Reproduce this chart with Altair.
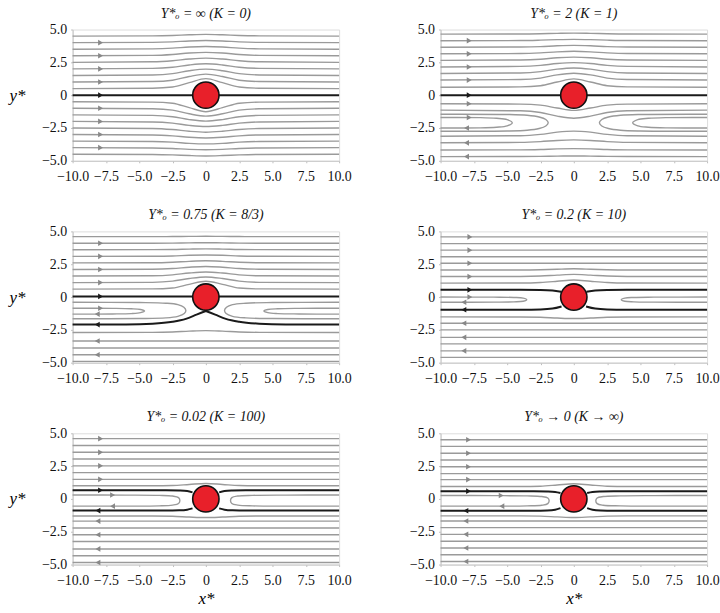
import altair as alt
import pandas as pd

FONT = "Liberation Serif"
GRAY = "#9a9a9a"
GRAY_ARROW = "#888888"
BLACK = "#1a1a1a"
RED = "#e8202a"

# ---------------- shared grids / ticks ----------------
XS = [-10, 10]                                   # straight streamline ends
X9 = [-10, -4, -2.5, -1.25, 0, 1.25, 2.5, 4, 10]  # sample x for deflected lines
XT = [-10, -7.5, -5, -2.5, 0, 2.5, 5, 7.5, 10]
YT = [-5, -2.5, 0, 2.5, 5]
SPHERE = [(0, 0)]

TITLES = [
    "Y*ₒ = ∞ (K = 0)",
    "Y*ₒ = 2 (K = 1)",
    "Y*ₒ = 0.75 (K = 8/3)",
    "Y*ₒ = 0.2 (K = 10)",
    "Y*ₒ = 0.02 (K = 100)",
    "Y*ₒ → 0 (K → ∞)",
]

# ---------------- panel 1 : K = 0 ----------------
P1_STRAIGHT = []
P1_CURVED = [
    [4.5, 4.52, 4.55, 4.6, 4.63, 4.6, 4.55, 4.52, 4.5],
    [4.0, 4.02, 4.06, 4.13, 4.16, 4.13, 4.06, 4.02, 4.0],
    [3.5, 3.53, 3.58, 3.67, 3.71, 3.67, 3.58, 3.53, 3.5],
    [3.0, 3.03, 3.1, 3.21, 3.26, 3.21, 3.1, 3.03, 3.0],
    [2.5, 2.54, 2.62, 2.75, 2.82, 2.75, 2.62, 2.54, 2.5],
    [2.0, 2.04, 2.13, 2.3, 2.39, 2.3, 2.13, 2.04, 2.0],
    [1.5, 1.54, 1.64, 1.86, 1.98, 1.86, 1.64, 1.54, 1.5],
    [1.0, 1.04, 1.14, 1.42, 1.6, 1.42, 1.14, 1.04, 1.0],
    [0.5, 0.53, 0.62, 0.95, 1.26, 0.95, 0.62, 0.53, 0.5],
    [-0.5, -0.53, -0.62, -0.95, -1.26, -0.95, -0.62, -0.53, -0.5],
    [-1.0, -1.04, -1.14, -1.42, -1.6, -1.42, -1.14, -1.04, -1.0],
    [-1.5, -1.54, -1.64, -1.86, -1.98, -1.86, -1.64, -1.54, -1.5],
    [-2.0, -2.04, -2.13, -2.3, -2.39, -2.3, -2.13, -2.04, -2.0],
    [-2.5, -2.54, -2.62, -2.75, -2.82, -2.75, -2.62, -2.54, -2.5],
    [-3.0, -3.03, -3.1, -3.21, -3.26, -3.21, -3.1, -3.03, -3.0],
    [-3.5, -3.53, -3.58, -3.67, -3.71, -3.67, -3.58, -3.53, -3.5],
    [-4.0, -4.02, -4.06, -4.13, -4.16, -4.13, -4.06, -4.02, -4.0],
    [-4.5, -4.52, -4.55, -4.6, -4.63, -4.6, -4.55, -4.52, -4.5],
]
P1_BLACK = [[(-10, 0), (10, 0)]]
P1_LOOPS = []
P1_ARROWS = [(-7.9, 4.0, "r", "g"), (-7.9, 3.0, "r", "g"), (-7.9, 2.0, "r", "g"),
             (-7.9, 1.0, "r", "g"), (-7.9, 0.0, "r", "k"), (-7.9, -1.0, "r", "g"),
             (-7.9, -2.0, "r", "g"), (-7.9, -3.0, "r", "g"), (-7.9, -4.0, "r", "g")]

# ---------------- panel 2 : K = 1 ----------------
P2_STRAIGHT = []
P2_CURVED = [
    [4.65, 4.66, 4.68, 4.71, 4.73, 4.71, 4.68, 4.66, 4.65],
    [4.15, 4.16, 4.19, 4.23, 4.25, 4.23, 4.19, 4.16, 4.15],
    [3.65, 3.67, 3.7, 3.76, 3.79, 3.76, 3.7, 3.67, 3.65],
    [3.15, 3.17, 3.22, 3.3, 3.34, 3.3, 3.22, 3.17, 3.15],
    [2.65, 2.68, 2.74, 2.85, 2.9, 2.85, 2.74, 2.68, 2.65],
    [2.15, 2.19, 2.27, 2.41, 2.48, 2.41, 2.27, 2.19, 2.15],
    [1.65, 1.69, 1.79, 1.98, 2.07, 1.98, 1.79, 1.69, 1.65],
    [1.15, 1.19, 1.3, 1.55, 1.67, 1.55, 1.3, 1.19, 1.15],
    [0.6, 0.63, 0.72, 1.0, 1.24, 1.0, 0.72, 0.63, 0.6],
    [-0.65, -0.68, -0.76, -0.98, -1.16, -0.98, -0.76, -0.68, -0.65],
    [-1.14, -1.19, -1.32, -1.6, -1.76, -1.6, -1.32, -1.19, -1.14],
    [-3.13, -3.09, -2.99, -2.82, -2.74, -2.82, -2.99, -3.09, -3.13],
    [-3.63, -3.6, -3.54, -3.45, -3.41, -3.45, -3.54, -3.6, -3.63],
    [-4.18, -4.17, -4.14, -4.09, -4.07, -4.09, -4.14, -4.17, -4.18],
    [-4.68, -4.67, -4.66, -4.64, -4.63, -4.64, -4.66, -4.67, -4.68],
]
P2_BLACK = [[(-10, 0), (10, 0)]]
P2_LOOPS = [
    [(-10, -1.45), (-5, -1.47), (-3.5, -1.53), (-2.6, -1.66), (-2.1, -1.85), (-1.92, -2.1),
     (-2.1, -2.35), (-2.6, -2.54), (-3.5, -2.67), (-5, -2.73), (-10, -2.75)],
    [(10, -1.45), (5, -1.47), (3.5, -1.53), (2.6, -1.66), (2.1, -1.85), (1.92, -2.1),
     (2.1, -2.35), (2.6, -2.54), (3.5, -2.67), (5, -2.73), (10, -2.75)],
    [(-10, -1.7), (-7, -1.71), (-5.8, -1.76), (-5.0, -1.86), (-4.62, -2.1), (-5.0, -2.34),
     (-5.8, -2.44), (-7, -2.49), (-10, -2.5)],
    [(10, -1.7), (7, -1.71), (5.6, -1.76), (4.8, -1.86), (4.42, -2.1), (4.8, -2.34),
     (5.6, -2.44), (7, -2.49), (10, -2.5)],
]
P2_ARROWS = [(-7.85, 4.15, "r", "g"), (-7.85, 3.15, "r", "g"), (-7.85, 2.15, "r", "g"),
             (-7.85, 1.15, "r", "g"), (-7.85, 0.0, "r", "k"), (-7.85, -0.65, "r", "g"),
             (-7.85, -1.7, "r", "g"), (-8.05, -2.5, "l", "g"), (-8.05, -3.63, "l", "g"),
             (-8.05, -4.68, "l", "g")]

# ---------------- panel 3 : K = 8/3 ----------------
P3_STRAIGHT = [-3.35, -3.88, -4.4, -4.9]
P3_CURVED = [
    [4.6, 4.6, 4.61, 4.62, 4.63, 4.62, 4.61, 4.6, 4.6],
    [4.1, 4.1, 4.11, 4.13, 4.14, 4.13, 4.11, 4.1, 4.1],
    [3.6, 3.61, 3.62, 3.65, 3.67, 3.65, 3.62, 3.61, 3.6],
    [3.1, 3.11, 3.13, 3.18, 3.2, 3.18, 3.13, 3.11, 3.1],
    [2.6, 2.61, 2.65, 2.72, 2.76, 2.72, 2.65, 2.61, 2.6],
    [2.1, 2.12, 2.17, 2.27, 2.33, 2.27, 2.17, 2.12, 2.1],
    [1.6, 1.62, 1.69, 1.83, 1.91, 1.83, 1.69, 1.62, 1.6],
    [1.1, 1.12, 1.21, 1.41, 1.53, 1.41, 1.21, 1.12, 1.1],
    [0.6, 0.62, 0.69, 0.97, 1.2, 0.97, 0.69, 0.62, 0.6],
    [-2.7, -2.69, -2.66, -2.6, -2.56, -2.6, -2.66, -2.69, -2.7],
]
P3_BLACK = [
    [(-10, 0.05), (10, 0.05)],
    [(-10, -2.1), (-6, -2.09), (-4, -2.03), (-2.5, -1.88), (-1.5, -1.66), (-0.7, -1.34), (0, -1.06)],
    [(0, -1.06), (0.7, -1.34), (1.5, -1.66), (2.5, -1.88), (4, -2.03), (6, -2.09), (10, -2.1)],
]
P3_LOOPS = [
    [(-10, -0.4), (-5, -0.42), (-3, -0.47), (-2.1, -0.58), (-1.65, -0.78), (-1.5, -1.02),
     (-1.62, -1.26), (-2.1, -1.47), (-3, -1.59), (-5, -1.64), (-10, -1.65)],
    [(10, -0.4), (5, -0.42), (3, -0.47), (2.0, -0.58), (1.55, -0.78), (1.4, -1.02),
     (1.52, -1.26), (2.0, -1.47), (3, -1.59), (5, -1.64), (10, -1.65)],
    [(-10, -0.85), (-7, -0.86), (-5.6, -0.89), (-4.9, -0.95), (-4.6, -1.07), (-4.9, -1.19),
     (-5.6, -1.26), (-7, -1.29), (-10, -1.3)],
    [(10, -0.85), (7, -0.86), (5.4, -0.89), (4.65, -0.95), (4.35, -1.07), (4.65, -1.19),
     (5.4, -1.26), (7, -1.29), (10, -1.3)],
]
P3_ARROWS = [(-7.9, 4.1, "r", "g"), (-7.9, 3.1, "r", "g"), (-7.9, 2.1, "r", "g"),
             (-7.9, 1.1, "r", "g"), (-7.9, 0.05, "r", "k"), (-7.9, -0.85, "r", "g"),
             (-8.15, -1.3, "l", "g"), (-8.15, -2.1, "l", "k"), (-8.15, -3.35, "l", "g"),
             (-8.15, -4.4, "l", "g")]

# ---------------- panel 4 : K = 10 ----------------
P4_STRAIGHT = [4.58, 4.07, 3.57, 3.07, 2.57, -2.0, -2.5, -3.07, -3.57, -4.1, -4.6]
P4_CURVED = [
    [2.06, 2.06, 2.08, 2.12, 2.15, 2.12, 2.08, 2.06, 2.06],
    [1.56, 1.57, 1.6, 1.67, 1.73, 1.67, 1.6, 1.57, 1.56],
    [1.06, 1.07, 1.11, 1.2, 1.3, 1.2, 1.11, 1.07, 1.06],
    [-1.51, -1.52, -1.54, -1.6, -1.64, -1.6, -1.54, -1.52, -1.51],
]
P4_BLACK = [
    [(-10, 0.55), (-4, 0.55), (-2.5, 0.54), (-1.6, 0.5), (-0.95, 0.4)],
    [(0.95, 0.4), (1.6, 0.5), (2.5, 0.54), (4, 0.55), (10, 0.55)],
    [(-10, -0.97), (-4, -0.96), (-2.5, -0.94), (-1.6, -0.88), (-0.92, -0.72)],
    [(0.92, -0.72), (1.6, -0.88), (2.5, -0.94), (4, -0.96), (10, -0.97)],
]
P4_LOOPS = [
    [(-10, 0.0), (-6, -0.01), (-4.5, -0.03), (-3.8, -0.08), (-3.53, -0.2), (-3.8, -0.32),
     (-4.5, -0.37), (-6, -0.39), (-10, -0.4)],
    [(10, 0.0), (6, -0.01), (4.5, -0.03), (3.83, -0.08), (3.56, -0.2), (3.83, -0.32),
     (4.5, -0.37), (6, -0.39), (10, -0.4)],
]
P4_ARROWS = [(-7.8, 4.58, "r", "g"), (-7.8, 3.57, "r", "g"), (-7.8, 2.57, "r", "g"),
             (-7.8, 1.56, "r", "g"), (-7.8, 0.55, "r", "k"), (-7.8, 0.0, "r", "g"),
             (-8.25, -0.4, "l", "g"), (-8.25, -0.97, "l", "k"), (-8.25, -2.0, "l", "g"),
             (-8.25, -3.07, "l", "g"), (-8.25, -4.1, "l", "g")]

# ---------------- panel 5 : K = 100 ----------------
P5_STRAIGHT = [4.59, 4.07, 3.55, 3.04, 2.52, 2.0, 1.49,
               -1.69, -2.21, -2.73, -3.24, -3.81, -4.33, -4.84]
P5_CURVED = [
    [1.0, 1.0, 1.02, 1.1, 1.18, 1.1, 1.02, 1.0, 1.0],
    [-1.3, -1.3, -1.32, -1.38, -1.42, -1.38, -1.32, -1.3, -1.3],
]
P5_BLACK = [
    [(-10, 0.66), (-3, 0.66), (-2, 0.64), (-1.4, 0.6), (-1.0, 0.5)],
    [(1.0, 0.5), (1.4, 0.6), (2, 0.64), (3, 0.66), (10, 0.66)],
    [(-10, -0.89), (-3, -0.89), (-2, -0.87), (-1.4, -0.82), (-1.0, -0.72)],
    [(1.0, -0.72), (1.4, -0.82), (2, -0.87), (3, -0.89), (10, -0.89)],
]
P5_LOOPS = [
    [(-10, 0.3), (-6, 0.29), (-3.5, 0.27), (-2.5, 0.22), (-2.05, 0.1), (-1.95, -0.12),
     (-2.05, -0.35), (-2.5, -0.47), (-3.5, -0.53), (-6, -0.55), (-10, -0.55)],
    [(10, 0.3), (6, 0.29), (3.5, 0.27), (2.4, 0.22), (1.95, 0.1), (1.85, -0.12),
     (1.95, -0.35), (2.4, -0.47), (3.5, -0.53), (6, -0.55), (10, -0.55)],
]
P5_ARROWS = [(-7.9, 4.59, "r", "g"), (-7.9, 3.55, "r", "g"), (-7.9, 2.52, "r", "g"),
             (-7.9, 1.49, "r", "g"), (-7.9, 0.66, "r", "k"), (-7.0, 0.3, "r", "g"),
             (-7.0, -0.55, "l", "g"), (-8.1, -0.89, "l", "k"), (-8.1, -1.69, "l", "g"),
             (-8.1, -2.73, "l", "g"), (-8.1, -3.81, "l", "g"), (-8.1, -4.84, "l", "g")]

# ---------------- panel 6 : K -> infinity ----------------
P6_STRAIGHT = [4.51, 4.0, 3.48, 2.96, 2.45, 1.93, 1.47,
               -1.68, -2.19, -2.7, -3.22, -3.74, -4.25, -4.77]
P6_CURVED = [
    [0.95, 0.95, 0.97, 1.06, 1.16, 1.06, 0.97, 0.95, 0.95],
    [-1.29, -1.29, -1.31, -1.37, -1.42, -1.37, -1.31, -1.29, -1.29],
]
P6_BLACK = [
    [(-10, 0.59), (-3, 0.59), (-2, 0.57), (-1.4, 0.53), (-1.0, 0.45)],
    [(1.0, 0.45), (1.4, 0.53), (2, 0.57), (3, 0.59), (10, 0.59)],
    [(-10, -0.9), (-3, -0.9), (-2, -0.88), (-1.4, -0.82), (-1.0, -0.7)],
    [(1.0, -0.7), (1.4, -0.82), (2, -0.88), (3, -0.9), (10, -0.9)],
]
P6_LOOPS = [
    [(-10, 0.26), (-6, 0.25), (-3.5, 0.23), (-2.4, 0.18), (-1.95, 0.07), (-1.85, -0.14),
     (-1.95, -0.36), (-2.4, -0.48), (-3.5, -0.53), (-6, -0.55), (-10, -0.55)],
    [(10, 0.26), (6, 0.25), (3.5, 0.23), (2.2, 0.18), (1.75, 0.07), (1.65, -0.14),
     (1.75, -0.36), (2.2, -0.48), (3.5, -0.53), (6, -0.55), (10, -0.55)],
]
P6_ARROWS = [(-7.9, 4.51, "r", "g"), (-7.9, 3.48, "r", "g"), (-7.9, 2.45, "r", "g"),
             (-7.9, 1.47, "r", "g"), (-7.9, 0.59, "r", "k"), (-5.45, 0.26, "r", "g"),
             (-5.4, -0.55, "l", "g"), (-8.1, -0.9, "l", "k"), (-8.1, -1.68, "l", "g"),
             (-8.1, -2.7, "l", "g"), (-8.1, -3.74, "l", "g"), (-8.1, -4.77, "l", "g")]

PANELS = [
    (P1_STRAIGHT, P1_CURVED, P1_BLACK, P1_LOOPS, P1_ARROWS),
    (P2_STRAIGHT, P2_CURVED, P2_BLACK, P2_LOOPS, P2_ARROWS),
    (P3_STRAIGHT, P3_CURVED, P3_BLACK, P3_LOOPS, P3_ARROWS),
    (P4_STRAIGHT, P4_CURVED, P4_BLACK, P4_LOOPS, P4_ARROWS),
    (P5_STRAIGHT, P5_CURVED, P5_BLACK, P5_LOOPS, P5_ARROWS),
    (P6_STRAIGHT, P6_CURVED, P6_BLACK, P6_LOOPS, P6_ARROWS),
]

LBL = "datum.value == 0 ? '0' : format(datum.value, '.1f')"


def make_panel(idx, show_y_title, show_x_title):
    straight, curved, black, loops, arrows = PANELS[idx]

    rows = []
    for i, v in enumerate(straight):
        for j, x in enumerate(XS):
            rows.append({"x": x, "y": v, "id": f"s{i}", "o": j})
    for i, ys in enumerate(curved):
        for j, (x, y) in enumerate(zip(X9, ys)):
            rows.append({"x": x, "y": y, "id": f"c{i}", "o": j})
    gray_df = pd.DataFrame(rows, columns=["x", "y", "id", "o"])

    rows = []
    for i, pts in enumerate(black):
        for j, (x, y) in enumerate(pts):
            rows.append({"x": x, "y": y, "id": f"b{i}", "o": j})
    black_df = pd.DataFrame(rows, columns=["x", "y", "id", "o"])

    rows = []
    for i, pts in enumerate(loops):
        for j, (x, y) in enumerate(pts):
            rows.append({"x": x, "y": y, "id": f"l{i}", "o": j})
    loop_df = pd.DataFrame(rows, columns=["x", "y", "id", "o"])

    arrow_df = pd.DataFrame(arrows, columns=["x", "y", "d", "k"])
    sphere_df = pd.DataFrame(SPHERE, columns=["x", "y"])

    common = dict(grid=False, ticks=True, tickSize=2, tickColor="#bdbdbd",
                  labelFont=FONT, labelFontSize=14, labelColor="#111",
                  domainColor="#c8c8c8", domainWidth=1, labelOverlap=False,
                  labelFlush=False, labelBound=False, labelExpr=LBL)
    if show_x_title:
        xaxis = alt.Axis(values=XT, labelPadding=7, title="x*", titleFont=FONT,
                         titleFontSize=17, titleFontStyle="italic",
                         titleFontWeight="normal", titlePadding=3, **common)
    else:
        xaxis = alt.Axis(values=XT, labelPadding=7, title=None, **common)
    if show_y_title:
        yaxis = alt.Axis(values=YT, labelPadding=4, title="y*", titleAngle=0,
                         titleX=-56, titleY=66, titleAlign="center",
                         titleBaseline="middle", titleFont=FONT, titleFontSize=17,
                         titleFontStyle="italic", titleFontWeight="normal", **common)
    else:
        yaxis = alt.Axis(values=YT, labelPadding=4, title=None, **common)

    xs = alt.Scale(domain=[-10, 10], nice=False, zero=False)
    ys_ = alt.Scale(domain=[-5, 5], nice=False, zero=False)
    X = alt.X("x:Q", scale=xs, axis=xaxis)
    Y = alt.Y("y:Q", scale=ys_, axis=yaxis)

    layers = []
    layers.append(alt.Chart(gray_df).mark_line(
        interpolate="monotone", color=GRAY, strokeWidth=1.4
    ).encode(x=X, y=Y, detail="id:N"))
    if len(loop_df):
        layers.append(alt.Chart(loop_df).mark_line(
            interpolate="catmull-rom", color=GRAY, strokeWidth=1.4
        ).encode(x=X, y=Y, detail="id:N", order="o:Q"))
    layers.append(alt.Chart(black_df).mark_line(
        interpolate="monotone", color=BLACK, strokeWidth=2
    ).encode(x=X, y=Y, detail="id:N"))
    layers.append(alt.Chart(arrow_df).mark_point(
        filled=True, size=32, opacity=1
    ).encode(
        x=X, y=Y,
        shape=alt.Shape("d:N", scale=alt.Scale(domain=["r", "l"],
                        range=["triangle-right", "triangle-left"]), legend=None),
        color=alt.Color("k:N", scale=alt.Scale(domain=["g", "k"],
                        range=[GRAY_ARROW, BLACK]), legend=None),
    ))
    layers.append(alt.Chart(sphere_df).mark_point(
        shape="circle", filled=True, size=700, fill=RED, stroke="#111",
        strokeWidth=1.6, opacity=1, fillOpacity=1, strokeOpacity=1
    ).encode(x=X, y=Y))

    return alt.layer(*layers).properties(
        width=268, height=132,
        title=alt.TitleParams(TITLES[idx], font=FONT, fontSize=14,
                              fontStyle="italic", fontWeight="normal",
                              color="#111", offset=2, anchor="middle"),
    )


charts = [
    make_panel(0, True, False), make_panel(1, False, False),
    make_panel(2, True, False), make_panel(3, False, False),
    make_panel(4, True, True), make_panel(5, False, True),
]

chart = alt.concat(
    *charts, columns=2,
    spacing=alt.RowColnumber(row=71, column=102),
    bounds="flush",
).properties(
    padding={"left": 8, "top": 4, "right": 0, "bottom": 0},
).configure_view(stroke=None).configure(background="white")

chart.save("out.html", embed_options={"renderer": "svg", "actions": False})
